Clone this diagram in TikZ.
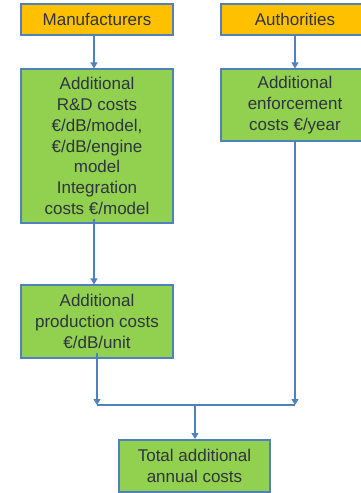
\documentclass[tikz,border=0pt]{standalone}
\usepackage{fontspec}
\setmainfont{Liberation Sans}
\usetikzlibrary{arrows.meta,positioning}
\definecolor{bordblue}{HTML}{4F81BD}
\definecolor{boxgreen}{HTML}{92D050}
\definecolor{boxorange}{HTML}{FFC000}
\definecolor{txt}{HTML}{2E3440}
\begin{document}
\begin{tikzpicture}[x=1pt,y=-1pt,
  box/.style={draw=bordblue, line width=1.2pt, align=center, inner sep=2pt,
    font=\fontsize{17}{20.7}\selectfont, text=txt},
  orangebox/.style={box, fill=boxorange, minimum height=31pt},
  greenbox/.style={box, fill=boxgreen},
  conn/.style={draw=bordblue, line width=1.4pt},
  arr/.style={conn, -{Triangle[width=7pt,length=6pt]}}]
\useasboundingbox (0,0) rectangle (360,493);
\node[orangebox, minimum width=152pt] (manu) at (97,19.5) {Manufacturers};
\node[orangebox, minimum width=148pt] (auth) at (295,19.5) {Authorities};
\node[greenbox, minimum width=152pt, minimum height=154pt] (rd) at (97,146)
  {Additional\\R\&D costs\\€/dB/model,\\€/dB/engine\\model\\Integration\\costs €/model};
\node[greenbox, minimum width=148pt, minimum height=72pt] (enf) at (295,105)
  {Additional\\enforcement\\costs €/year};
\node[greenbox, minimum width=152pt, minimum height=73pt] (prod) at (97,321.5)
  {Additional\\production costs\\€/dB/unit};
\node[greenbox, line width=2pt, minimum width=151pt, minimum height=52pt] (tot) at (194.5,466)
  {Total additional\\annual costs};
\coordinate (jl) at (97,405);
\coordinate (jr) at (295,405);
\coordinate (jm) at (195,405);
\draw[arr] ([xshift=-3pt]manu.south) -- ([xshift=-3pt]rd.north);
\draw[arr] (auth.south) -- (enf.north);
\draw[arr] ([xshift=-3pt,yshift=5pt]rd.south) -- ([xshift=-3pt]prod.north);
\draw[arr] ([yshift=6pt]prod.south) -- (jl);
\draw[arr] (enf.south) -- (jr);
\draw[conn] (jl) -- (jr);
\draw[arr] (jm) -- (tot.north -| jm);
\end{tikzpicture}
\end{document}
